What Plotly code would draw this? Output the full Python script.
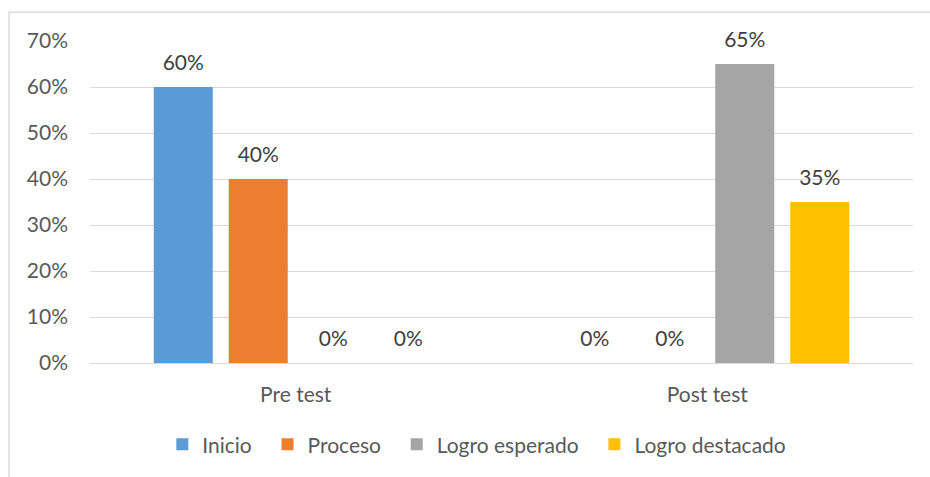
import plotly.graph_objects as go

categories = ["Pre test", "Post test"]
series_names = ["Inicio", "Proceso", "Logro esperado", "Logro destacado"]
inicio = [0.60, 0.0]
proceso = [0.40, 0.0]
logro_esperado = [0.0, 0.65]
logro_destacado = [0.0, 0.35]
y_ticks = [0, 0.1, 0.2, 0.3, 0.4, 0.5, 0.6, 0.7]

colors = ["#5b9bd5", "#ed7d31", "#a5a5a5", "#ffc000"]
FONT = "Lato"
GREY_TXT = "#595959"
FS = 21
NBSP = "\u00a0"

fig = go.Figure()
for i, (name, vals, c) in enumerate(zip(series_names,
                                        [inicio, proceso, logro_esperado,
                                         logro_destacado],
                                        colors)):
    # a little extra room between legend entries, like the Excel legend
    legend_name = name + (NBSP * 2 if i < 3 else "")
    fig.add_trace(go.Bar(x=categories, y=vals, name=legend_name,
                         offsetgroup=name,
                         marker=dict(color=c, line=dict(width=0))))
    # data labels, aligned with the bars through the offset groups
    fig.add_trace(go.Scatter(x=categories, y=vals, offsetgroup=name,
                             mode="markers+text", showlegend=False,
                             hoverinfo="skip",
                             marker=dict(size=17, opacity=0),
                             texttemplate="%{y:.0%}",
                             textposition="top center",
                             cliponaxis=False,
                             textfont=dict(family=FONT, size=FS,
                                           color="#404040")))

fig.update_layout(
    width=930, height=477,
    margin=dict(l=90, r=17, t=41, b=110),
    paper_bgcolor="white", plot_bgcolor="white",
    barmode="group", bargap=0.271, bargroupgap=0.213,
    scattermode="group", scattergap=0.271,
    font=dict(family=FONT, size=FS, color=GREY_TXT),
    showlegend=True,
    legend=dict(orientation="h", x=0.47, xanchor="center", y=-0.19,
                yanchor="top", font=dict(family=FONT, size=FS, color=GREY_TXT),
                itemwidth=30, traceorder="normal"),
    shapes=[dict(type="rect", xref="paper", yref="paper",
                 x0=-0.0984, x1=1.05, y0=-0.5, y1=1.089,
                 line=dict(color="#d9d9d9", width=1.5), layer="below")],
)
fig.update_xaxes(showgrid=False, showline=False, ticks="",
                 tickfont=dict(family=FONT, size=FS, color=GREY_TXT),
                 ticklabelstandoff=17)
fig.update_yaxes(range=[0, 0.7], tickvals=y_ticks, tickformat=".0%",
                 showgrid=True, gridcolor="#d9d9d9", gridwidth=1,
                 zeroline=True, zerolinecolor="#d9d9d9", zerolinewidth=1,
                 showline=False, ticks="", ticklabelstandoff=21,
                 tickfont=dict(family=FONT, size=FS, color=GREY_TXT))

fig.write_html("out.html", config={"displayModeBar": False},
               post_script="document.body.style.margin='0';")
